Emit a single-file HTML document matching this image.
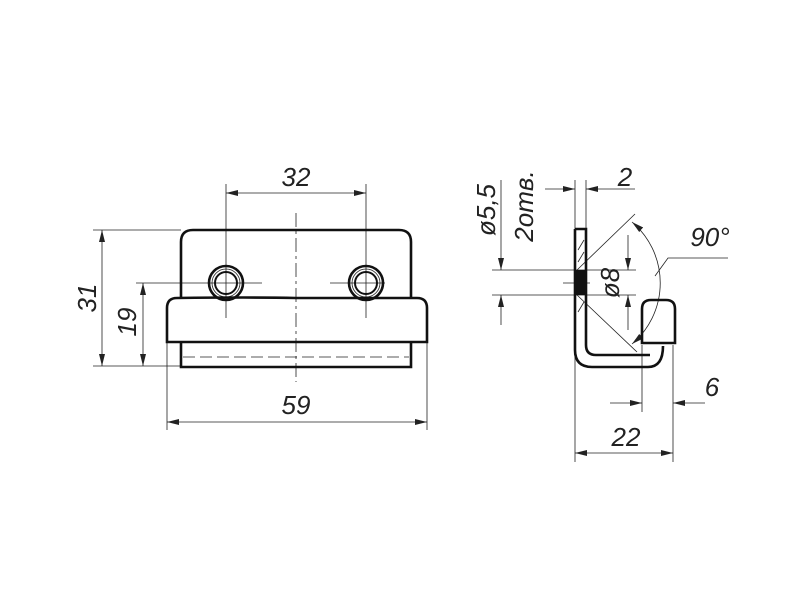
<!DOCTYPE html>
<html><head><meta charset="utf-8"><style>
html,body{margin:0;padding:0;background:#fff;width:800px;height:600px;overflow:hidden}
text{font-family:"Liberation Sans",sans-serif;font-style:italic;fill:#222}
</style></head><body>
<svg width="800" height="600" viewBox="0 0 800 600" xmlns="http://www.w3.org/2000/svg">
<defs>
<marker id="a" viewBox="0 0 12 6" refX="12" refY="3" markerWidth="12" markerHeight="6" markerUnits="userSpaceOnUse" orient="auto-start-reverse"><path d="M0,0 L12,3 L0,6 z" fill="#222"/></marker>
</defs>
<g fill="none" stroke="#222" stroke-width="0.8">
<!-- left view thin lines -->
<line x1="296" y1="213" x2="296" y2="382" stroke-dasharray="14,4,3,4"/>
<line x1="226" y1="184" x2="226" y2="318"/>
<line x1="366" y1="184" x2="366" y2="318"/>
<line x1="207" y1="283" x2="262" y2="283"/>
<line x1="330" y1="283" x2="385" y2="283"/>
<line x1="136" y1="283" x2="207" y2="283"/>
<line x1="93" y1="230" x2="181" y2="230"/>
<line x1="93" y1="366" x2="181" y2="366"/>
<line x1="167" y1="342" x2="167" y2="430"/>
<line x1="427" y1="342" x2="427" y2="430"/>
<line x1="226" y1="193" x2="366" y2="193" marker-start="url(#a)" marker-end="url(#a)"/>
<line x1="102" y1="230" x2="102" y2="366" marker-start="url(#a)" marker-end="url(#a)"/>
<line x1="143" y1="283" x2="143" y2="366" marker-start="url(#a)" marker-end="url(#a)"/>
<line x1="167" y1="422" x2="427" y2="422" marker-start="url(#a)" marker-end="url(#a)"/>
<line x1="183" y1="357" x2="409" y2="357" stroke-dasharray="12,5"/>
<circle cx="226" cy="283" r="14"/><circle cx="366" cy="283" r="14"/>
<!-- right view thin -->
<line x1="575" y1="180" x2="575" y2="462"/>
<line x1="586" y1="180" x2="586" y2="229"/>
<line x1="545" y1="189" x2="575" y2="189" marker-end="url(#a)"/>
<line x1="635" y1="189" x2="586" y2="189" marker-end="url(#a)"/>
<line x1="492" y1="270" x2="636" y2="270"/>
<line x1="492" y1="295" x2="636" y2="295"/>
<line x1="563" y1="283" x2="590" y2="283"/>
<line x1="501" y1="250" x2="501" y2="270" marker-end="url(#a)"/>
<line x1="501" y1="325" x2="501" y2="295" marker-end="url(#a)"/>
<line x1="501" y1="180" x2="501" y2="250"/>
<line x1="628" y1="235" x2="628" y2="270" marker-end="url(#a)"/>
<line x1="628" y1="330" x2="628" y2="295" marker-end="url(#a)"/>
<line x1="577" y1="270" x2="635" y2="214"/>
<line x1="577" y1="295" x2="637" y2="352"/>
<path d="M632,222 A80,80 0 0 1 632,344" marker-start="url(#a)" marker-end="url(#a)"/>
<polyline points="655,276 668,258 728,258"/>
<line x1="642" y1="345" x2="642" y2="412"/>
<line x1="673" y1="345" x2="673" y2="462"/>
<line x1="610" y1="403" x2="642" y2="403" marker-end="url(#a)"/>
<line x1="705" y1="403" x2="673" y2="403" marker-end="url(#a)"/>
<line x1="575" y1="453" x2="673" y2="453" marker-start="url(#a)" marker-end="url(#a)"/>
<line x1="578" y1="250" x2="584" y2="240"/><line x1="578" y1="262" x2="584" y2="252"/>
<line x1="578" y1="312" x2="584" y2="302"/>
</g>
<g fill="none" stroke="#111" stroke-width="2.6">
<path d="M181,298 V242 Q181,230 193,230 H399 Q411,230 411,242 V298"/>
<path d="M177,298 Q167,298 167,308 V342 H427 V308 Q427,298 417,298 H296 Q250,297 177,298 Z"/>
<path d="M181,342 V367 H411 V342"/>
<circle cx="226" cy="283" r="17"/><circle cx="366" cy="283" r="17"/>
<circle cx="226" cy="283" r="11" stroke-width="2"/><circle cx="366" cy="283" r="11" stroke-width="2"/>
<path d="M575,229 H586 V345 Q586,355 596,355 H650"/>
<path d="M575,229 V350 Q575,367 592,367 H648 Q663,367 663,346"/>
<path d="M642,343 V309 Q642,300 651,300 H666 Q675,300 675,309 V343 Z"/>
</g>
<rect x="576" y="270" width="9" height="25" fill="#111"/>
<g font-size="26">
<text x="296" y="186" text-anchor="middle">32</text>
<text x="296" y="414" text-anchor="middle">59</text>
<text transform="translate(96,298) rotate(-90)" text-anchor="middle">31</text>
<text transform="translate(136,322) rotate(-90)" text-anchor="middle">19</text>
<text x="625" y="186" text-anchor="middle">2</text>
<text x="710" y="246" text-anchor="middle">90°</text>
<text x="712" y="396" text-anchor="middle">6</text>
<text x="626" y="446" text-anchor="middle">22</text>
<text transform="translate(495,210) rotate(-90)" text-anchor="middle">ø5,5</text>
<text transform="translate(533,206) rotate(-90)" text-anchor="middle" font-family="Liberation Sans,DejaVu Sans,sans-serif">2отв.</text>
<text transform="translate(619,283) rotate(-90)" text-anchor="middle">ø8</text>
</g>
</svg>
</body></html>
